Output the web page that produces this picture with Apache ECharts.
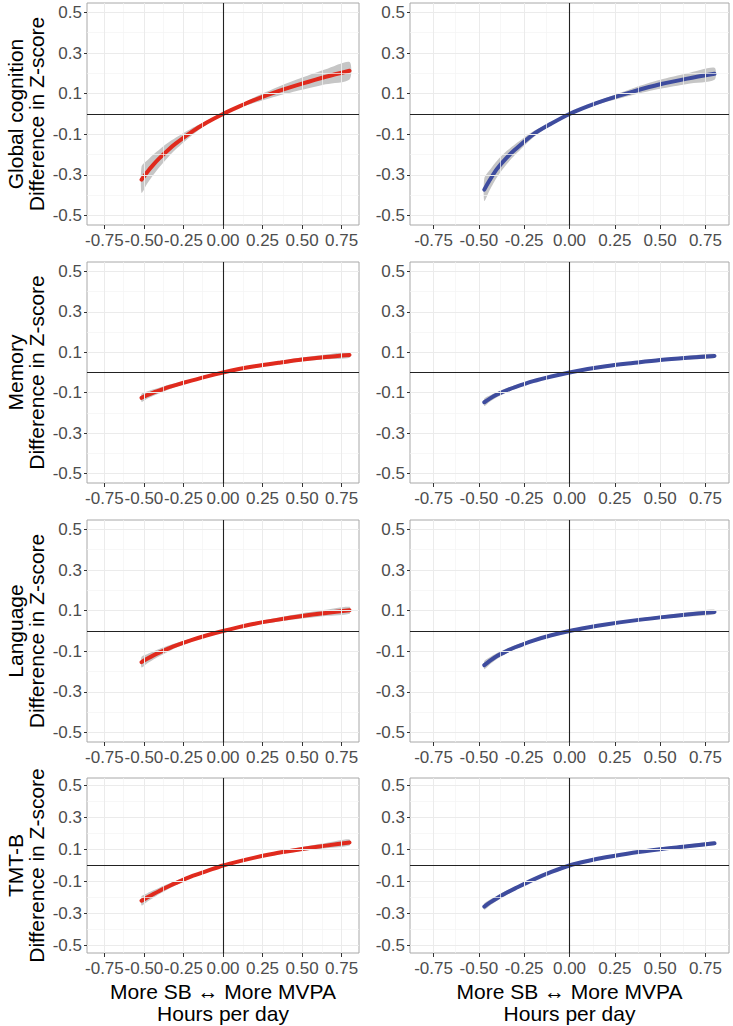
<!DOCTYPE html>
<html><head><meta charset="utf-8">
<script src="https://cdn.jsdelivr.net/npm/echarts@6/dist/echarts.min.js"></script>
<style>html,body{margin:0;padding:0;background:#fff}#c{width:733px;height:1026px}</style>
</head><body><div id="c"></div>
<script>
// ---------- data ----------
const outcomes = ['Global cognition', 'Memory', 'Language', 'TMT-B'];
const yTitleSuffix = 'Difference in Z-score';
const xTitle = 'More SB \u2194 More MVPA\nHours per day';

const xLeft  = [-0.515,-0.48,-0.44,-0.4,-0.35,-0.3,-0.2,-0.1,0,0.1,0.2,0.35,0.5,0.65,0.8];
const xRight = [-0.47,-0.44,-0.4,-0.35,-0.3,-0.2,-0.1,0,0.1,0.2,0.35,0.5,0.65,0.8];

// Global cognition
const gcLeftFit   = [-0.323,-0.286,-0.249,-0.216,-0.179,-0.146,-0.089,-0.041,0,0.036,0.069,0.112,0.149,0.183,0.213];
const gcLeftLow   = [-0.388,-0.343,-0.299,-0.259,-0.215,-0.175,-0.107,-0.049,0,0.029,0.055,0.090,0.119,0.146,0.170];
const gcLeftUp    = [-0.258,-0.229,-0.199,-0.173,-0.143,-0.117,-0.071,-0.033,0,0.043,0.083,0.134,0.179,0.220,0.256];
const gcRightFit  = [-0.372,-0.325,-0.270,-0.218,-0.175,-0.100,-0.047,0,0.037,0.069,0.110,0.146,0.174,0.198];
const gcRightLow  = [-0.428,-0.374,-0.311,-0.251,-0.201,-0.115,-0.054,0,0.031,0.059,0.094,0.124,0.148,0.168];
const gcRightUp   = [-0.316,-0.276,-0.230,-0.185,-0.149,-0.085,-0.040,0,0.043,0.079,0.127,0.168,0.200,0.228];
// Memory
const memLeftFit  = [-0.125,-0.112,-0.099,-0.088,-0.074,-0.062,-0.040,-0.019,0,0.017,0.031,0.048,0.064,0.077,0.087];
const memLeftLow  = [-0.145,-0.130,-0.115,-0.102,-0.086,-0.072,-0.046,-0.022,0,0.014,0.026,0.040,0.054,0.065,0.073];
const memLeftUp   = [-0.105,-0.094,-0.083,-0.074,-0.062,-0.052,-0.034,-0.016,0,0.020,0.036,0.056,0.074,0.089,0.101];
const memRightFit = [-0.147,-0.129,-0.109,-0.089,-0.072,-0.043,-0.020,0,0.017,0.031,0.047,0.062,0.073,0.082];
const memRightLow = [-0.165,-0.144,-0.122,-0.100,-0.081,-0.048,-0.022,0,0.015,0.027,0.041,0.055,0.064,0.072];
const memRightUp  = [-0.129,-0.114,-0.096,-0.078,-0.063,-0.038,-0.018,0,0.019,0.035,0.053,0.069,0.082,0.092];
// Language
const lanLeftFit  = [-0.153,-0.137,-0.120,-0.105,-0.088,-0.072,-0.045,-0.021,0,0.019,0.036,0.056,0.074,0.089,0.102];
const lanLeftLow  = [-0.179,-0.160,-0.140,-0.123,-0.103,-0.084,-0.053,-0.025,0,0.016,0.030,0.046,0.061,0.074,0.085];
const lanLeftUp   = [-0.127,-0.114,-0.100,-0.087,-0.073,-0.060,-0.037,-0.017,0,0.022,0.042,0.066,0.087,0.104,0.119];
const lanRightFit = [-0.168,-0.147,-0.123,-0.100,-0.080,-0.047,-0.021,0,0.017,0.032,0.051,0.067,0.081,0.094];
const lanRightLow = [-0.188,-0.165,-0.138,-0.112,-0.090,-0.053,-0.024,0,0.015,0.028,0.045,0.059,0.071,0.083];
const lanRightUp  = [-0.148,-0.129,-0.108,-0.088,-0.070,-0.041,-0.018,0,0.019,0.036,0.057,0.075,0.091,0.105];
// TMT-B
const tmtLeftFit  = [-0.220,-0.200,-0.178,-0.157,-0.133,-0.110,-0.068,-0.034,0,0.026,0.049,0.079,0.103,0.124,0.144];
const tmtLeftLow  = [-0.249,-0.226,-0.201,-0.177,-0.150,-0.124,-0.077,-0.038,0,0.023,0.043,0.069,0.090,0.108,0.125];
const tmtLeftUp   = [-0.191,-0.174,-0.155,-0.137,-0.116,-0.096,-0.059,-0.030,0,0.029,0.055,0.089,0.116,0.140,0.163];
const tmtRightFit = [-0.256,-0.232,-0.204,-0.172,-0.143,-0.088,-0.040,0,0.028,0.051,0.080,0.102,0.120,0.139];
const tmtRightLow = [-0.276,-0.251,-0.220,-0.186,-0.154,-0.095,-0.043,0,0.026,0.047,0.074,0.094,0.110,0.128];
const tmtRightUp  = [-0.236,-0.213,-0.188,-0.158,-0.132,-0.081,-0.037,0,0.030,0.055,0.086,0.110,0.130,0.150];

const xTicks = [-0.75,-0.5,-0.25,0,0.25,0.5,0.75];
const yTicks = [-0.5,-0.3,-0.1,0.1,0.3,0.5];
const xGridMajor = [-0.75,-0.5,-0.25,0.25,0.5,0.75];
const xGridMinor = [-0.625,-0.375,-0.125,0.125,0.375,0.625];
const yGridMajor = [-0.5,-0.3,-0.1,0.1,0.3,0.5];
const yGridMinor = [-0.4,-0.2,0.2,0.4];

// ---------- layout / style ----------
const FONT = '"Liberation Sans", Arial, Helvetica, sans-serif';
const RED = '#E02A1D', BLUE = '#3E4C9E', BAND = '#C6C6C6';
const colLeft = [87, 410], colWidth = [272, 319];
const rowTop = [3, 262, 520, 778], rowHeight = [222, 221, 222, 175];
const xRange = [0.86, 0.88];
const yRange = 0.546;

const panels = [
  {row:0,col:0,x:xLeft, fit:gcLeftFit, low:gcLeftLow, up:gcLeftUp},
  {row:0,col:1,x:xRight,fit:gcRightFit,low:gcRightLow,up:gcRightUp},
  {row:1,col:0,x:xLeft, fit:memLeftFit, low:memLeftLow, up:memLeftUp},
  {row:1,col:1,x:xRight,fit:memRightFit,low:memRightLow,up:memRightUp},
  {row:2,col:0,x:xLeft, fit:lanLeftFit, low:lanLeftLow, up:lanLeftUp},
  {row:2,col:1,x:xRight,fit:lanRightFit,low:lanRightLow,up:lanRightUp},
  {row:3,col:0,x:xLeft, fit:tmtLeftFit, low:tmtLeftLow, up:tmtLeftUp},
  {row:3,col:1,x:xRight,fit:tmtRightFit,low:tmtRightLow,up:tmtRightUp}
];

const grid = [], xAxis = [], yAxis = [], series = [];
panels.forEach((p, i) => {
  const isLeft = p.col === 0;
  grid.push({
    left: colLeft[p.col], top: rowTop[p.row], width: colWidth[p.col], height: rowHeight[p.row],
    show: true, borderColor: '#A8A8A8', borderWidth: 1, backgroundColor: '#fff'
  });
  xAxis.push({
    type: 'value', gridIndex: i, min: -xRange[p.col], max: xRange[p.col],
    axisLine: {show: false, onZero: false},
    axisTick: {show: true, length: 4, customValues: xTicks, lineStyle: {color: '#333'}},
    axisLabel: {customValues: xTicks, margin: 7, color: '#4D4D4D', fontSize: 17, fontFamily: FONT,
      formatter: v => v.toFixed(2)},
    splitLine: {show: false},
    name: p.row === 3 ? xTitle : '', nameLocation: 'middle', nameGap: 27,
    nameTextStyle: {color: '#000', fontSize: 21, lineHeight: 22, fontFamily: FONT}
  });
  yAxis.push({
    type: 'value', gridIndex: i, min: -yRange, max: yRange,
    axisLine: {show: false, onZero: false},
    axisTick: {show: true, length: 3, customValues: yTicks, lineStyle: {color: '#333'}},
    axisLabel: {customValues: yTicks, margin: 5, color: '#4D4D4D', fontSize: 17, fontFamily: FONT,
      formatter: v => v.toFixed(1)},
    splitLine: {show: false},
    name: isLeft ? outcomes[p.row] + '\n' + yTitleSuffix : '', nameLocation: 'middle', nameRotate: 90, nameGap: 40,
    nameTextStyle: {color: '#000', fontSize: 21, lineHeight: 21, fontFamily: FONT}
  });
  // grid lines + zero reference lines
  const ml = [];
  xGridMinor.forEach(v => ml.push({xAxis: v, lineStyle: {color: '#F3F3F3', width: 0.7, type: 'solid'}}));
  yGridMinor.forEach(v => ml.push({yAxis: v, lineStyle: {color: '#F3F3F3', width: 0.7, type: 'solid'}}));
  xGridMajor.forEach(v => ml.push({xAxis: v, lineStyle: {color: '#EBEBEB', width: 1, type: 'solid'}}));
  yGridMajor.forEach(v => ml.push({yAxis: v, lineStyle: {color: '#EBEBEB', width: 1, type: 'solid'}}));
  ml.push({xAxis: 0, lineStyle: {color: '#222', width: 1.1, type: 'solid'}});
  ml.push({yAxis: 0, lineStyle: {color: '#222', width: 1.1, type: 'solid'}});
  series.push({
    type: 'line', xAxisIndex: i, yAxisIndex: i, data: [], z: 1, silent: true,
    markLine: {silent: true, symbol: ['none', 'none'], animation: false, label: {show: false}, data: ml}
  });
  // confidence band polygon, positioned through api.coord
  series.push({
    type: 'custom', xAxisIndex: i, yAxisIndex: i, z: 2, silent: true, animation: false,
    data: p.x.map((x, k) => [x, p.low[k], p.up[k]]),
    encode: {x: 0, y: [1, 2]},
    renderItem: (params, api) => {
      if (params.dataIndex !== 0) return;
      const upPts = [], lowPts = [];
      for (let k = 0; k < p.x.length; k++) {
        upPts.push(api.coord([p.x[k], p.up[k]]));
        lowPts.push(api.coord([p.x[k], p.low[k]]));
      }
      return {
        type: 'polygon', shape: {points: upPts.concat(lowPts.slice().reverse()), smooth: 0.25},
        style: {fill: BAND, stroke: null}
      };
    }
  });
  // fitted curve
  series.push({
    type: 'line', xAxisIndex: i, yAxisIndex: i, z: 3,
    data: p.x.map((x, k) => [x, p.fit[k]]), showSymbol: false, symbol: 'none', smooth: 0.3,
    lineStyle: {width: 4, color: isLeft ? RED : BLUE, cap: 'round', join: 'round'}, silent: true, animation: false
  });
});

const chart = echarts.init(document.getElementById('c'), null, {renderer: 'svg'});
chart.setOption({animation: false, grid, xAxis, yAxis, series});
</script></body></html>
